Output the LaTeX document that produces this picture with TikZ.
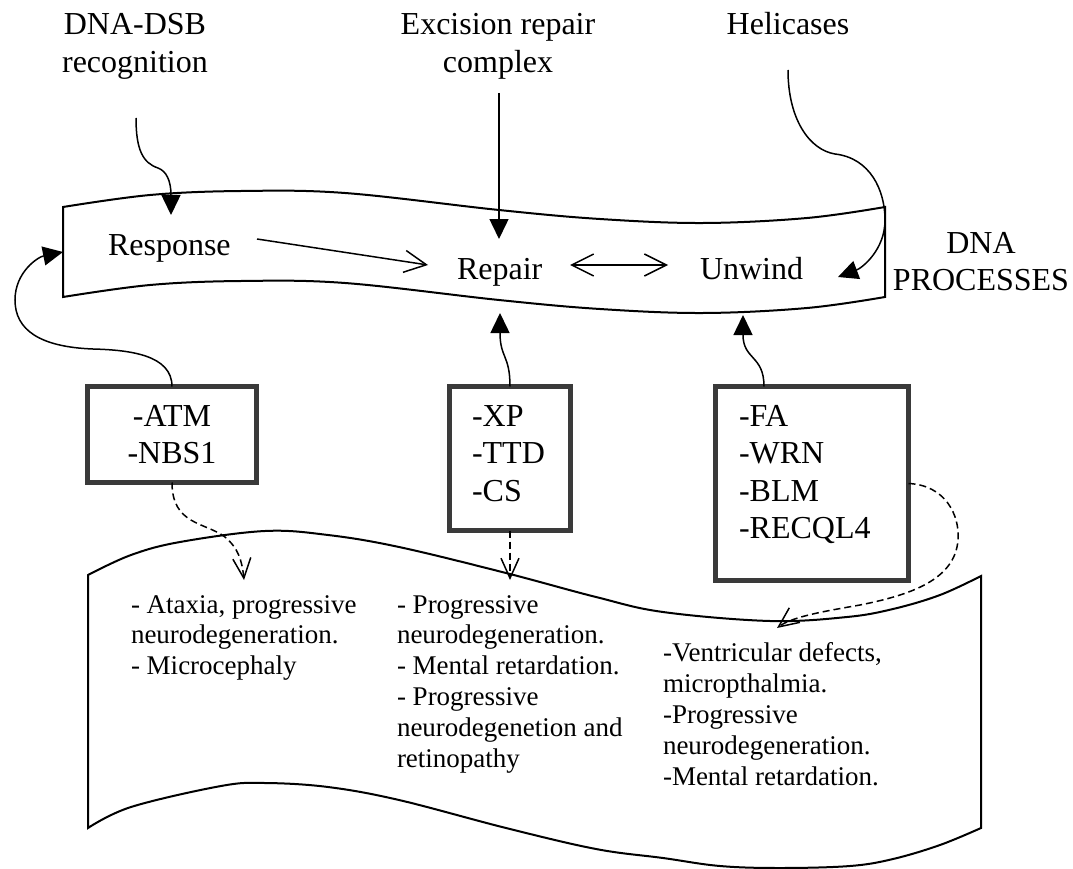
\documentclass[tikz,border=0pt]{standalone}
\usepackage{fontspec}
\setmainfont{Liberation Serif}
\usetikzlibrary{arrows.meta,calc}
\definecolor{boxgray}{HTML}{3A3A3A}
\tikzset{
  bigtext/.style={font=\fontsize{32}{38}\selectfont, inner sep=0pt, outer sep=0pt},
  smalltext/.style={font=\fontsize{27}{30.8}\selectfont, inner sep=0pt, outer sep=0pt, anchor=base west},
  banner/.style={draw=black, line width=2pt, fill=white, line join=miter},
  genebox/.style={draw=boxgray, line width=5pt, fill=white, rectangle, inner ysep=0pt, outer sep=0pt,
     anchor=base west, font=\fontsize{32}{37.5}\selectfont},
  solidarrow/.style={draw=black, line width=1.5pt, -{Triangle[length=20pt,width=19pt]}},
  openarrow/.style={draw=black, line width=1.5pt, -{Straight Barb[length=22pt,width=22pt]}},
  openboth/.style={draw=black, line width=1.5pt, {Straight Barb[length=22pt,width=22pt]}-{Straight Barb[length=22pt,width=22pt]}},
  dasharrow/.style={draw=black, line width=1.5pt, dash pattern=on 7pt off 4pt, -{Straight Barb[length=20pt,width=18pt]}},
}
\begin{document}
\begin{tikzpicture}[x=1pt,y=-1pt]
\useasboundingbox (0,0) rectangle (1073,869);

% ---------- top banner ----------
\draw[banner] plot[smooth,tension=0.6] coordinates {(63,207) (150,195) (241,191) (345,193) (499,210) (600,219) (703,223) (807,218) (885,207)}
  -- plot[smooth,tension=0.6] coordinates {(885,297) (807,308) (703,313) (600,309) (499,300) (345,283) (241,281) (150,285) (63,297)} -- cycle;

% ---------- bottom banner ----------
\draw[banner] plot[smooth,tension=0.6] coordinates {(88,575) (131,555) (180,542) (265,531) (328,535) (399,547) (506,573) (596,597) (663,612) (770,621) (847,617) (893,609) (940,595) (981,576)}
  -- plot[smooth,tension=0.6] coordinates {(981,828) (940,845) (893,859) (850,866) (780,868) (720,866) (663,858) (596,849) (506,828) (399,800) (328,787) (265,783) (221,786) (131,807) (88,828)} -- cycle;

% ---------- labels ----------
\node[bigtext, anchor=base] (dsb) at (135,35) {\parbox[t]{220pt}{\centering DNA-DSB\\recognition}};
\node[bigtext, anchor=base] (exc) at (498,35) {\parbox[t]{260pt}{\centering Excision repair\\complex}};
\node[bigtext, anchor=base] (hel) at (788,35) {Helicases};
\node[bigtext, anchor=base west] (resp) at (108,255) {Response};
\node[bigtext, anchor=base west] (rep) at (457,279) {Repair};
\node[bigtext, anchor=base west] (unw) at (700,279) {Unwind};
\node[font=\fontsize{32}{37}\selectfont, inner sep=0pt, anchor=base] (dnap) at (981,253) {\parbox[t]{190pt}{\centering DNA\\PROCESSES}};

% ---------- gene boxes ----------
\node[genebox, inner xsep=5pt, text height=39.5pt, text depth=56.5pt] (atm) at (87.5,426)
  {\parbox[t]{159pt}{\centering -ATM\\-NBS1}};
\node[genebox, inner xsep=22.5pt, text height=39.5pt, text depth=104.5pt] (xp) at (449.5,426)
  {\parbox[t]{76pt}{\raggedright -XP\\-TTD\\-CS}};
\node[genebox, inner xsep=23.5pt, text height=39.5pt, text depth=154.5pt] (fa) at (715.5,426)
  {\parbox[t]{146pt}{\raggedright -FA\\-WRN\\-BLM\\-RECQL4}};

% ---------- bottom texts ----------
\node[smalltext] (col1) at (131,613) {\parbox[t]{250pt}{\raggedright - Ataxia, progressive\\neurodegeneration.\\- Microcephaly}};
\node[smalltext] (col2) at (397,613) {\parbox[t]{250pt}{\raggedright - Progressive\\neurodegeneration.\\- Mental retardation.\\- Progressive\\neurodegenetion and\\retinopathy}};
\node[smalltext, font=\fontsize{27}{31.2}\selectfont] (col3) at (663,661) {\parbox[t]{250pt}{\raggedright -Ventricular defects,\\micropthalmia.\\-Progressive\\neurodegeneration.\\-Mental retardation.}};

% ---------- connector end points ----------
\coordinate (dsbS) at (136,118);
\coordinate (respN) at (171,215);
\coordinate (excS) at (499,93);
\coordinate (repN) at (499,239);
\coordinate (helS) at (788,70);
\coordinate (unwE) at (838,277);
\coordinate (respW) at (63,252);
\coordinate (repS) at (500,313);
\coordinate (unwS) at (743,315);
\coordinate (respE) at (257,239);
\coordinate (repW) at (428,265);
\coordinate (repE) at (570,265);
\coordinate (unwW) at (668,265);
\coordinate (col1N) at (244,580);
\coordinate (col2N) at (510,580);
\coordinate (col3N) at (777,628);

% ---------- connectors ----------
\draw[solidarrow] (dsbS) .. controls (136,150) and (143,163) .. (158,168) .. controls (166,171) and (171,180) .. (respN);
\draw[solidarrow] (excS) -- (repN);
\draw[solidarrow] (helS) .. controls (788,120) and (810,150) .. (835,154) .. controls (870,158) and (885,190) .. (885,220) .. controls (885,250) and (862,268) .. (unwE);
\draw[solidarrow] (atm.north) .. controls (172,355) and (130,350) .. (93,349) .. controls (40,347) and (15,330) .. (15,300) .. controls (15,272) and (38,257) .. (respW);
\draw[solidarrow] (xp.north) .. controls (510,355) and (500,358) .. (repS);
\draw[solidarrow] ($(fa.north west)+(48.5,0)$) .. controls (764,355) and (743,360) .. (unwS);
\draw[openarrow] (respE) -- (repW);
\draw[openboth] (repE) -- (unwW);

\draw[dasharrow] (atm.south) .. controls (172,525) and (205,522) .. (225,537) .. controls (238,548) and (242,560) .. (col1N);
\draw[dasharrow] (xp.south) -- (col2N);
\draw[dasharrow] (fa.east) .. controls (945,485) and (960,515) .. (958,540) .. controls (955,580) and (910,595) .. (860,605) .. controls (820,612) and (792,617) .. (col3N);
\end{tikzpicture}
\end{document}
